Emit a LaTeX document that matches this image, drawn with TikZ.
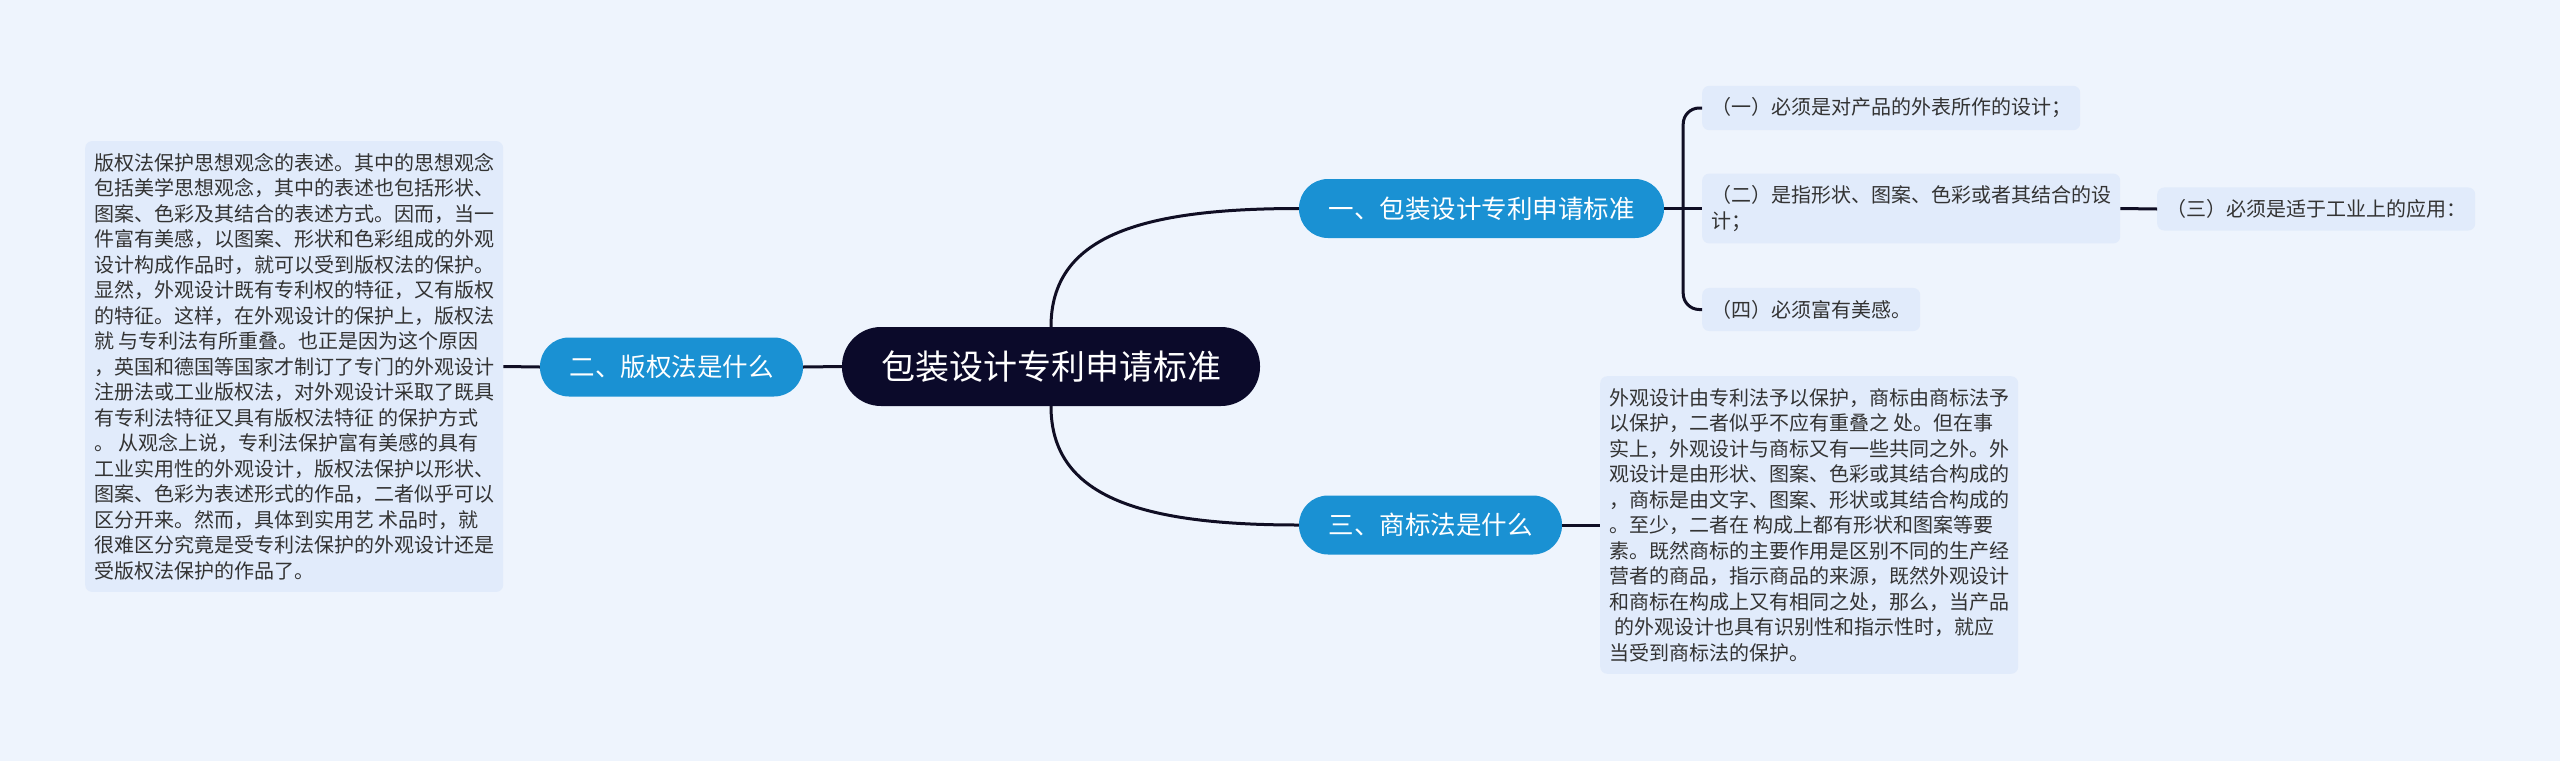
\documentclass[tikz,border=0pt]{standalone}
\usepackage{fontspec}
\setmainfont{Noto Sans CJK SC}
\usepackage{tikz}
\usetikzlibrary{positioning,calc}
\definecolor{bgblue}{HTML}{EEF4FD}
\definecolor{boxblue}{HTML}{E1EBFB}
\definecolor{branchblue}{HTML}{1A91D3}
\definecolor{hubnavy}{HTML}{0B0A2A}
\definecolor{linedark}{HTML}{100E24}
\definecolor{txtgray}{HTML}{333333}

\begin{document}
\begin{tikzpicture}[x=1pt,y=-1pt,
  hub/.style={fill=hubnavy,text=white,rounded corners=39pt,inner xsep=39pt,minimum height=79pt,font=\fontsize{34}{40}\selectfont},
  branch/.style={fill=branchblue,text=white,rounded corners=29pt,inner xsep=29.5pt,minimum height=59pt,font=\fontsize{25.5}{30}\selectfont},
  leaf/.style={fill=boxblue,text=txtgray,rounded corners=7pt,align=left,inner xsep=9pt,inner ysep=12pt,font=\fontsize{20}{25.5}\selectfont},
  link/.style={draw=linedark,line width=3pt}]
\fill[bgblue] (0,0) rectangle (2560,761);
\useasboundingbox (0,0) rectangle (2560,761);
\node[hub] (hub) at (1051,366.5) {包装设计专利申请标准};
\node[branch] (b1) at (1481.5,208.5) {一、包装设计专利申请标准};
\node[branch] (b2) at (671.5,367) {二、版权法是什么};
\node[branch] (b3) at (1430.5,525) {三、商标法是什么};
\node[leaf,anchor=west] (c1) at (1702,108) {（一）必须是对产品的外表所作的设计；};
\node[leaf,anchor=west] (c2) at (1702,208.5) {（二）是指形状、图案、色彩或者其结合的设\\计；};
\node[leaf,anchor=west] (c4) at (1702,309.5) {（四）必须富有美感。};
\node[leaf,anchor=west] (c3) at (2157,209) {（三）必须是适于工业上的应用：};
\node[leaf,anchor=west] (lbox) at (85,366.5) {版权法保护思想观念的表述。其中的思想观念\\
包括美学思想观念，其中的表述也包括形状、\\
图案、色彩及其结合的表述方式。因而，当一\\
件富有美感，以图案、形状和色彩组成的外观\\
设计构成作品时，就可以受到版权法的保护。\\
显然，外观设计既有专利权的特征，又有版权\\
的特征。这样，在外观设计的保护上，版权法\\
就 与专利法有所重叠。也正是因为这个原因\\
，英国和德国等国家才制订了专门的外观设计\\
注册法或工业版权法，对外观设计采取了既具\\
有专利法特征又具有版权法特征 的保护方式\\
。 从观念上说，专利法保护富有美感的具有\\
工业实用性的外观设计，版权法保护以形状、\\
图案、色彩为表述形式的作品，二者似乎可以\\
区分开来。然而，具体到实用艺 术品时，就\\
很难区分究竟是受专利法保护的外观设计还是\\
受版权法保护的作品了。};
\node[leaf,anchor=west] (rbox) at (1600,525) {外观设计由专利法予以保护，商标由商标法予\\
以保护，二者似乎不应有重叠之 处。但在事\\
实上，外观设计与商标又有一些共同之外。外\\
观设计是由形状、图案、色彩或其结合构成的\\
，商标是由文字、图案、形状或其结合构成的\\
。至少，二者在 构成上都有形状和图案等要\\
素。既然商标的主要作用是区别不同的生产经\\
营者的商品，指示商品的来源，既然外观设计\\
和商标在构成上又有相同之处，那么，当产品\\
\hspace{5pt}的外观设计也具有识别性和指示性时，就应\\
当受到商标法的保护。};
\coordinate (fork) at ($(b1.east)+(19,0)$);
\draw[link] (b2.east) -- (hub.west);
\draw[link] (lbox.east) -- (b2.west);
\draw[link] (hub.north) .. controls +(0,-90) and +(-160,0) .. (b1.west);
\draw[link] (hub.south) .. controls +(0,90) and +(-160,0) .. (b3.west);
\draw[link] (b3.east) -- (rbox.west);
\draw[link] (b1.east) -- (c2.west);
\draw[link] (c2.east) -- (c3.west);
\draw[link,rounded corners=16pt] (c1.west) -| (fork) |- (c4.west);
\end{tikzpicture}
\end{document}
